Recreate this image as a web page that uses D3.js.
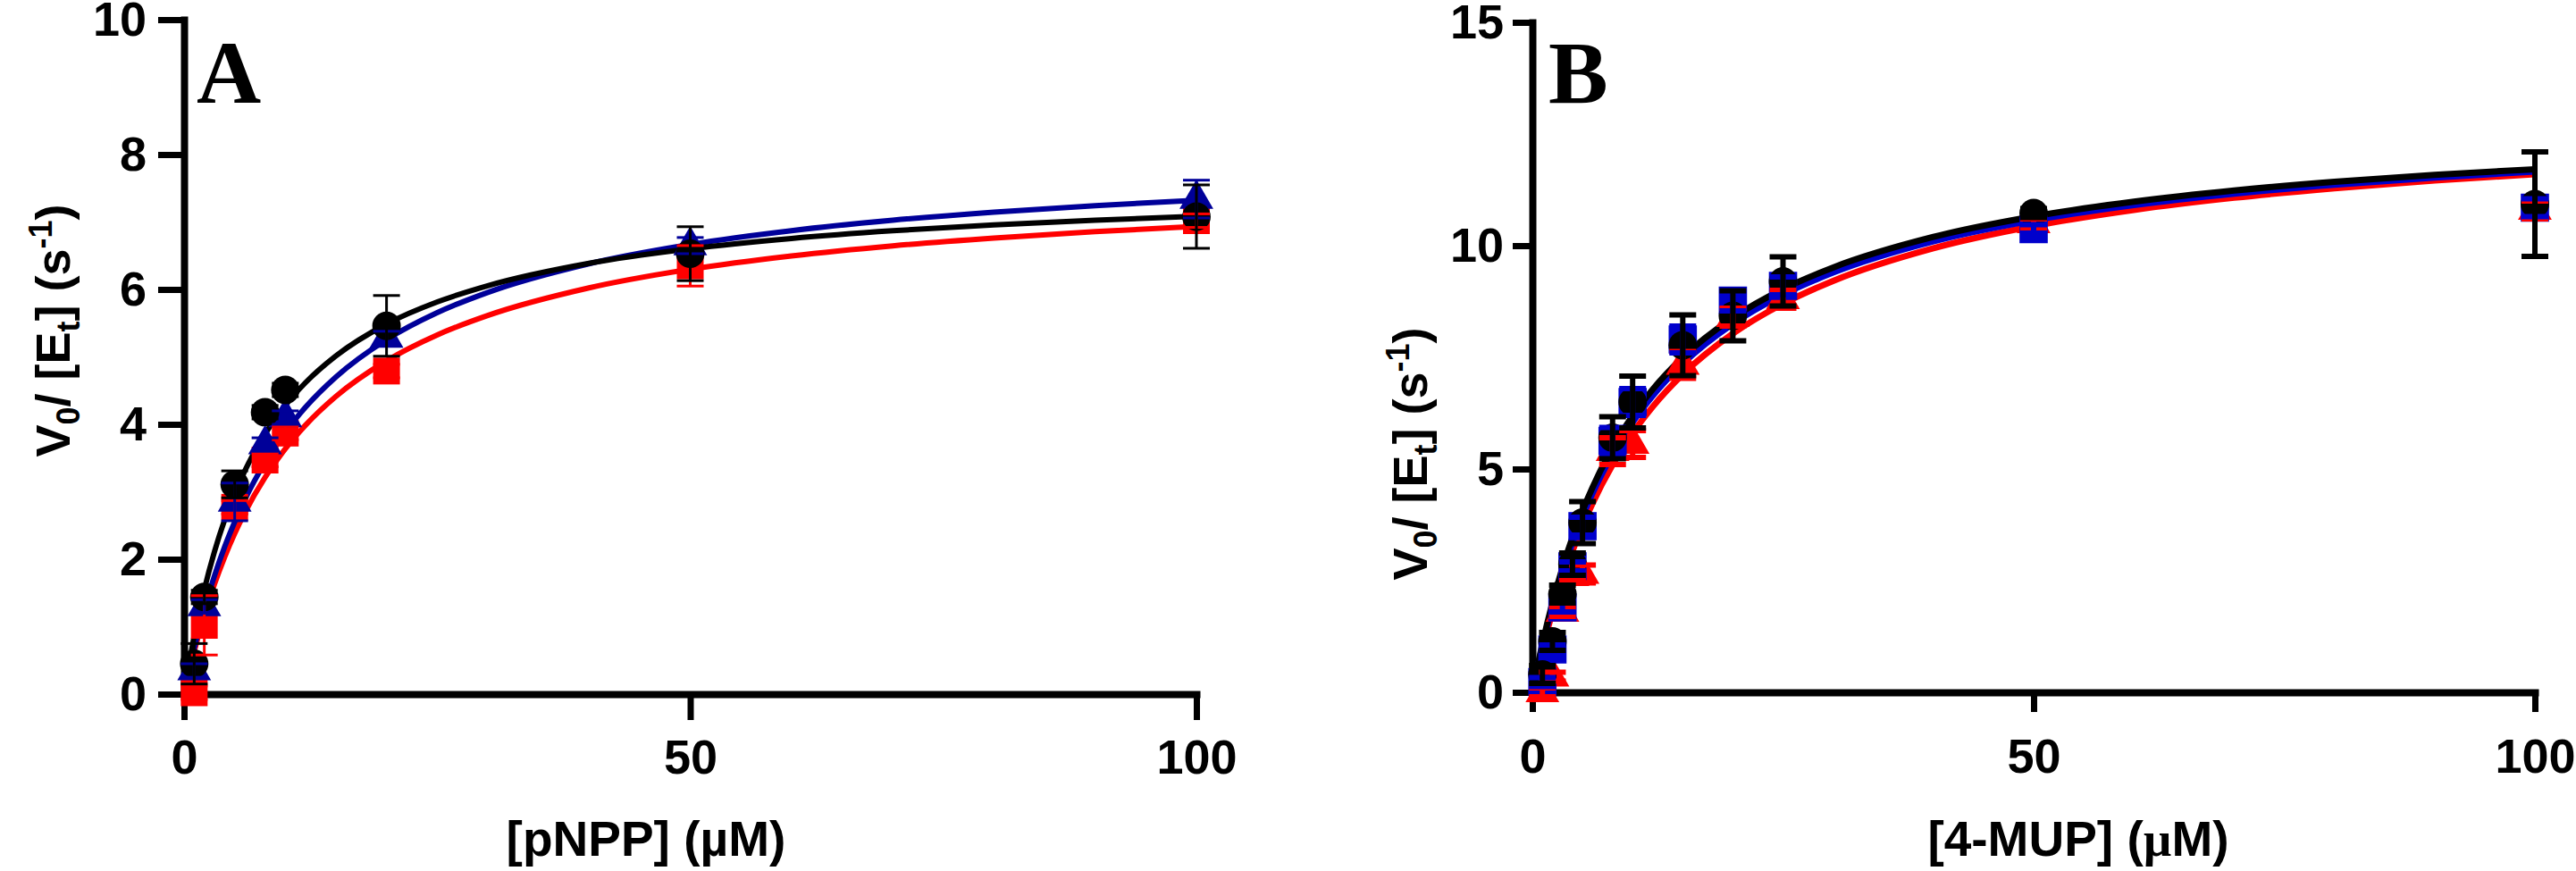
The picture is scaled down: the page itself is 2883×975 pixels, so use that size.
<!DOCTYPE html>
<html>
<head>
<meta charset="utf-8">
<script src="https://cdn.jsdelivr.net/npm/d3@7"></script>
<style>
  html, body { margin: 0; padding: 0; background: #ffffff; }
</style>
</head>
<body>
<svg id="chart" width="2883" height="975"></svg>
<script>
// ---------------- DATA ----------------
// Panel A : [pNPP]
const xA = [1, 2, 5, 8, 10, 20, 50, 100];
const blackA = [0.45, 1.44, 3.11, 4.18, 4.51, 5.46, 6.53, 7.08];
const blueA  = [0.35, 1.30, 2.85, 3.70, 4.10, 5.28, 6.65, 7.34];
const redA   = [0.02, 1.02, 2.77, 3.47, 3.87, 4.79, 6.35, 7.02];
const blackErrA = [0.30, 0.10, 0.20, 0.10, 0.10, 0.45, 0.40, 0.47];
const blueErrA  = [0.10, 0.10, 0.28, 0.10, 0.10, 0.10, 0.12, 0.28];
const redErrA   = [0.10, 0.44, 0.10, 0.10, 0.10, 0.10, 0.30, 0.10];

// fitted curves
const curveX = [0, 1, 2, 3, 4, 5, 6, 8, 10, 12, 15, 20, 25, 30, 40, 50, 60, 70, 80, 90, 100];
const blackFitA = [0, 0.863, 1.551, 2.112, 2.579, 2.973, 3.310, 3.856, 4.280, 4.619, 5.015, 5.487, 5.814, 6.055, 6.387, 6.603, 6.756, 6.870, 6.957, 7.027, 7.084];
const blueFitA  = [0, 0.682, 1.259, 1.753, 2.180, 2.553, 2.883, 3.437, 3.885, 4.255, 4.703, 5.256, 5.655, 5.956, 6.381, 6.667, 6.872, 7.026, 7.146, 7.243, 7.322];
const redFitA   = [0, 0.632, 1.168, 1.629, 2.029, 2.380, 2.690, 3.213, 3.637, 3.988, 4.414, 4.942, 5.325, 5.614, 6.023, 6.299, 6.497, 6.647, 6.763, 6.857, 6.933];

// Panel B : [4-MUP]
const xB = [1, 2, 3, 4, 5, 8, 10, 15, 20, 25, 50, 100];
const blackB = [0.40, 1.14, 2.20, 2.87, 3.80, 5.70, 6.50, 7.77, 8.43, 9.20, 10.73, 10.93];
const blueB  = [0.23, 0.96, 1.90, 2.82, 3.72, 5.63, 6.50, 7.90, 8.77, 9.10, 10.37, 10.85];
const redB   = [0.00, 0.35, 1.80, 2.60, 2.65, 5.40, 5.56, 7.33, 8.40, 8.80, 10.50, 10.80];
const blackErrB = [0.20, 0.20, 0.20, 0.25, 0.47, 0.47, 0.58, 0.68, 0.56, 0.55, 0.10, 1.17];
const blueErrB  = [0.10, 0.10, 0.10, 0.10, 0.20, 0.30, 0.30, 0.30, 0.23, 0.20, 0.10, 0.20];
const redErrB   = [0.10, 0.10, 0.10, 0.10, 0.20, 0.30, 0.30, 0.30, 0.20, 0.20, 0.10, 0.20];

const blackFitB = [0, 1.083, 2.000, 2.786, 3.467, 4.063, 4.588, 5.474, 6.190, 6.783, 7.500, 8.387, 9.028, 9.512, 10.196, 10.656, 10.986, 11.235, 11.429, 11.584, 11.712];
const blueFitB  = [0, 1.040, 1.926, 2.690, 3.355, 3.939, 4.457, 5.333, 6.047, 6.638, 7.358, 8.254, 8.904, 9.398, 10.097, 10.569, 10.909, 11.166, 11.366, 11.527, 11.659];
const redFitB   = [0, 0.967, 1.800, 2.526, 3.164, 3.729, 4.232, 5.093, 5.800, 6.392, 7.118, 8.031, 8.700, 9.212, 9.943, 10.440, 10.800, 11.073, 11.286, 11.459, 11.600];

const xTicks = [0, 50, 100];
const yTicksA = [0, 2, 4, 6, 8, 10];
const yTicksB = [0, 5, 10, 15];

// ---------------- DRAW ----------------
const SANS = "'Liberation Sans', Arial, sans-serif";
const SERIF = "'Liberation Serif', 'Times New Roman', serif";
const svg = d3.select("#chart");

function drawPanel(cfg) {
  const g = svg.append("g");
  const x = d3.scaleLinear().domain([0, 100]).range(cfg.xRange);
  const y = d3.scaleLinear().domain(cfg.yDomain).range(cfg.yRange);

  // axes
  const ax = g.append("g").attr("transform", `translate(0,${cfg.yRange[0]})`)
    .call(d3.axisBottom(x).tickValues(xTicks).tickSize(cfg.tick).tickSizeOuter(0).tickPadding(cfg.xPad));
  const ay = g.append("g").attr("transform", `translate(${cfg.xRange[0]},0)`)
    .call(d3.axisLeft(y).tickValues(cfg.yTicks).tickSize(cfg.tick).tickSizeOuter(0).tickPadding(cfg.yPad));
  [ax, ay].forEach(a => {
    a.select(".domain").attr("stroke", "#000").attr("stroke-width", 8).attr("stroke-linecap", "square");
    a.selectAll(".tick line").attr("stroke", "#000").attr("stroke-width", 7);
    a.selectAll(".tick text").style("font-size", "54px").style("font-family", SANS)
      .style("font-weight", "bold").attr("fill", "#000");
  });

  // curves
  const line = d3.line().x((d, i) => x(curveX[i])).y(d => y(d)).curve(d3.curveMonotoneX);
  cfg.series.forEach(s => {
    g.append("path").datum(s.fit).attr("d", line).attr("fill", "none")
      .attr("stroke", s.color).attr("stroke-width", cfg.lineW);
  });

  // points
  cfg.series.forEach(s => {
    const sym = d3.symbol().type(s.shape).size(s.size);
    g.append("g").selectAll("path").data(s.vals).join("path")
      .attr("d", sym)
      .attr("transform", (d, i) => `translate(${x(cfg.xs[i])},${y(d)})`)
      .attr("fill", s.color);
  });
  // error bars
  cfg.series.forEach(s => {
    const eg = g.append("g").attr("stroke", s.color).attr("stroke-width", cfg.errW).attr("fill", "none");
    s.vals.forEach((v, i) => {
      const cx = x(cfg.xs[i]);
      const e = s.err[i];
      eg.append("line").attr("x1", cx).attr("x2", cx).attr("y1", y(v - e)).attr("y2", y(v + e));
      [v - e, v + e].forEach(yy => {
        eg.append("line").attr("x1", cx - cfg.capW / 2).attr("x2", cx + cfg.capW / 2)
          .attr("y1", y(yy)).attr("y2", y(yy));
      });
    });
  });

  // panel letter
  g.append("text").attr("x", cfg.letterX).attr("y", 115)
    .style("font-family", SERIF).style("font-weight", "bold")
    .style("font-size", "100px").attr("fill", "#000").text(cfg.letter);

  // x title
  const xt = g.append("text").attr("x", cfg.xTitleX).attr("y", 958).attr("text-anchor", "middle")
    .style("font-family", SANS).style("font-weight", "bold").style("font-size", "55px").attr("fill", "#000");
  xt.append("tspan").text(cfg.xTitle + " (");
  xt.append("tspan").style("font-family", cfg.muFont).text("\u00B5");
  xt.append("tspan").text("M)");

  // y title
  const yt = g.append("text").attr("transform", `translate(${cfg.yTitleX},${cfg.yTitleY}) rotate(-90)`)
    .attr("text-anchor", "middle")
    .style("font-family", SANS).style("font-weight", "bold").style("font-size", "54px").attr("fill", "#000");
  yt.append("tspan").text("V");
  yt.append("tspan").style("font-size", "36px").attr("dy", 11).text("0");
  yt.append("tspan").attr("dy", -11).text("/ [E");
  yt.append("tspan").style("font-size", "36px").attr("dy", 11).text("t");
  yt.append("tspan").attr("dy", -11).text("] (s");
  yt.append("tspan").style("font-size", "36px").attr("dy", -20).text("-1");
  yt.append("tspan").attr("dy", 20).text(")");
}

drawPanel({
  xRange: [206, 1339], yDomain: [0, 10], yRange: [777, 22], yTicks: yTicksA,
  tick: 29, xPad: 22, yPad: 13, lineW: 6, errW: 3, capW: 30, xs: xA,
  letter: "A", letterX: 220, xTitle: "[pNPP]", xTitleX: 723, muFont: SANS,
  yTitleX: 78, yTitleY: 370,
  series: [
    { vals: redA, err: redErrA, fit: redFitA, color: "#ff0000", shape: d3.symbolSquare, size: 900 },
    { vals: blueA, err: blueErrA, fit: blueFitA, color: "#000099", shape: d3.symbolTriangle, size: 620 },
    { vals: blackA, err: blackErrA, fit: blackFitA, color: "#000000", shape: d3.symbolCircle, size: 800 }
  ]
});

drawPanel({
  xRange: [1715, 2837], yDomain: [0, 15], yRange: [775, 25], yTicks: yTicksB,
  tick: 22, xPad: 30, yPad: 10, lineW: 7, errW: 6, capW: 30, xs: xB,
  letter: "B", letterX: 1733, xTitle: "[4-MUP]", xTitleX: 2326, muFont: SERIF,
  yTitleX: 1597, yTitleY: 508,
  series: [
    { vals: redB, err: redErrB, fit: redFitB, color: "#ff0000", shape: d3.symbolTriangle, size: 620 },
    { vals: blueB, err: blueErrB, fit: blueFitB, color: "#0000cc", shape: d3.symbolSquare, size: 1000 },
    { vals: blackB, err: blackErrB, fit: blackFitB, color: "#000000", shape: d3.symbolCircle, size: 800 }
  ]
});
</script>
</body>
</html>
